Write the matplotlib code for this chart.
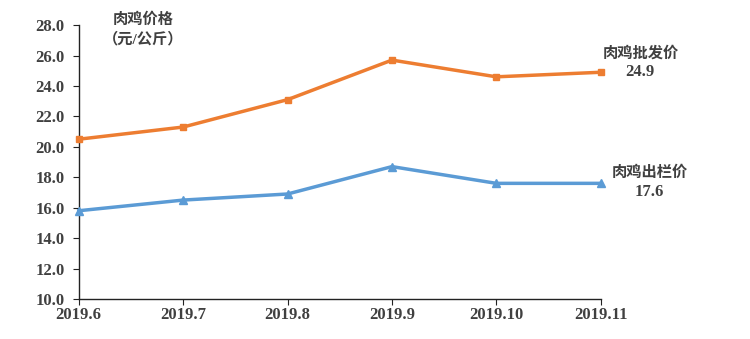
import matplotlib.pyplot as plt

plt.rcParams['font.family'] = ['Liberation Serif', 'Noto Sans CJK SC', 'DejaVu Sans']

months = ["2019.6", "2019.7", "2019.8", "2019.9", "2019.10", "2019.11"]
wholesale = [20.5, 21.3, 23.1, 25.7, 24.6, 24.9]
farm_gate = [15.8, 16.5, 16.9, 18.7, 17.6, 17.6]
y_ticks = [10, 12, 14, 16, 18, 20, 22, 24, 26, 28]

txt = "#404040"
orange = "#ED7D31"
blue = "#5B9BD5"

fig = plt.figure(figsize=(7.5, 3.39), dpi=100)
ax = fig.add_axes([0.105, 0.118, 0.696, 0.808])

x = list(range(len(months)))
ax.plot(x, wholesale, color=orange, lw=2.5, marker="s", ms=5, zorder=3, clip_on=False)
ax.plot(x, farm_gate, color=blue, lw=2.5, marker="^", ms=6, zorder=3, clip_on=False)

ax.set_xlim(0, len(months) - 1)
ax.set_ylim(10, 28)
ax.set_xticks(x)
ax.set_xticklabels(months)
ax.set_yticks(y_ticks)
ax.set_yticklabels([f"{v:.1f}" for v in y_ticks])

for s in ["top", "right"]:
    ax.spines[s].set_visible(False)
for s in ["left", "bottom"]:
    ax.spines[s].set_color("#222222")
    ax.spines[s].set_linewidth(1.0)
ax.tick_params(axis="both", direction="out", length=4, color="#222222",
               labelsize=12, labelcolor=txt)
ax.tick_params(axis="y", pad=6)
ax.tick_params(axis="x", pad=2)
for lab in ax.get_xticklabels() + ax.get_yticklabels():
    lab.set_fontweight("bold")

ax.text(0.123, 1.048, "肉鸡价格\n（元/公斤）", transform=ax.transAxes, ha="center",
        va="top", fontsize=11, color=txt, fontweight="bold", linespacing=1.45)

# series labels at the right end
labels = [("肉鸡批发价", wholesale[-1], (29, 14), (28, 0)),
          ("肉鸡出栏价", farm_gate[-1], (35, 8), (35, -6.5))]
for name, val, off_name, off_val in labels:
    ax.annotate(name, xy=(x[-1], val), xytext=off_name, textcoords="offset points",
                ha="center", va="center", fontsize=11, color=txt, fontweight="bold",
                annotation_clip=False)
    ax.annotate(f"{val:.1f}", xy=(x[-1], val), xytext=off_val, textcoords="offset points",
                ha="center", va="center", fontsize=12, color=txt, fontweight="bold",
                annotation_clip=False)

fig.savefig("out.png", dpi=100)
